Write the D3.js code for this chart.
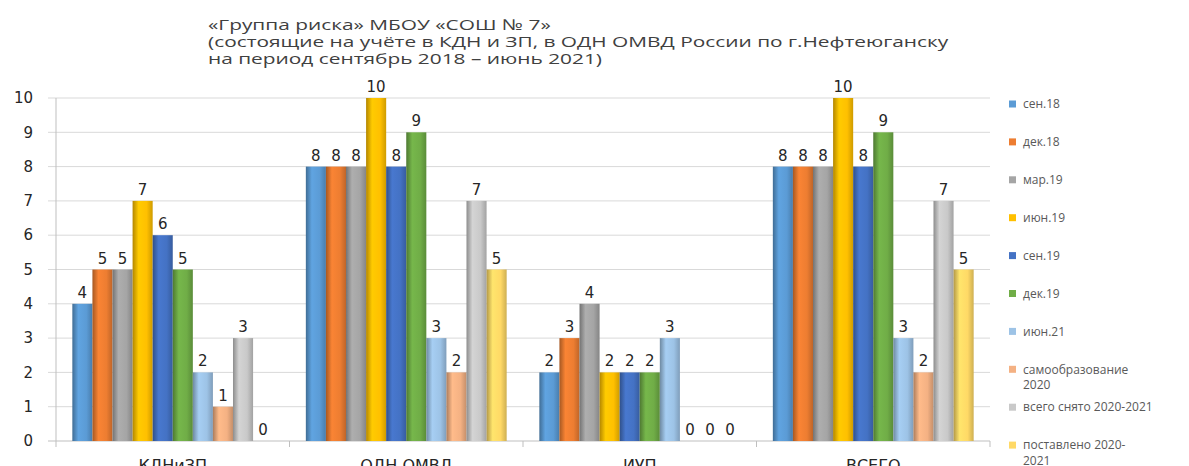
<!DOCTYPE html>
<html>
<head>
<meta charset="utf-8">
<script src="https://cdn.jsdelivr.net/npm/d3@7"></script>
<style>
  body { margin:0; background:#fff; }
  text { font-family: "Open Sans", "DejaVu Sans", sans-serif; }
  .num { font-family: "DejaVu Sans", sans-serif; }
</style>
</head>
<body>
<div id="container"></div>
<script>
/* DATA */
const categories = ["КДНиЗП", "ОДН ОМВД", "ИУП", "ВСЕГО"];
const seriesNames = ["сен.18", "дек.18", "мар.19", "июн.19", "сен.19", "дек.19", "июн.21",
                     "самообразование 2020", "всего снято 2020-2021", "поставлено 2020-2021"];
const seriesValues = [
  [4, 8, 2, 8],
  [5, 8, 3, 8],
  [5, 8, 4, 8],
  [7, 10, 2, 10],
  [6, 8, 2, 8],
  [5, 9, 2, 9],
  [2, 3, 3, 3],
  [1, 2, 0, 2],
  [3, 7, 0, 7],
  [0, 5, 0, 5]
];
const seriesColors = ["#5B9BD5", "#ED7D31", "#A5A5A5", "#FFC000", "#4472C4", "#70AD47",
                      "#9DC3E6", "#F4B183", "#C9C9C9", "#FFD966"];
const yTicks = [0, 1, 2, 3, 4, 5, 6, 7, 8, 9, 10];
const titleLines = ["«Группа риска» МБОУ «СОШ № 7»",
  "(состоящие на учёте в КДН и ЗП,  в ОДН ОМВД России по г.Нефтеюганску",
  "на период сентябрь 2018 – июнь 2021)"];

/* CONSTANTS */
const width = 1189, height = 466,
      margin = {top: 98, bottom: 25, left: 56, right: 199},
      innerWidth = width - margin.left - margin.right,
      innerHeight = height - margin.top - margin.bottom;

const data = [];
categories.forEach((c, ci) => {
  seriesNames.forEach((s, si) => data.push({cat: c, series: s, value: seriesValues[si][ci]}));
});

/* SCALES */
const x0 = d3.scaleBand()
  .domain(categories)
  .range([0, innerWidth])
  .paddingInner(0.14)
  .paddingOuter(0.07);

const x1 = d3.scaleBand()
  .domain(seriesNames)
  .range([0, x0.bandwidth()]);

const y = d3.scaleLinear()
  .domain([0, 10])
  .range([innerHeight, 0]);

const color = d3.scaleOrdinal()
  .domain(seriesNames)
  .range(seriesColors);

/* ELEMENTS */
const svg = d3.select("#container")
  .append("svg")
    .attr("width", width)
    .attr("height", height);

// cylinder-like shading for bars
const defs = svg.append("defs");
seriesNames.forEach((s, i) => {
  const c = d3.color(color(s));
  const g = defs.append("linearGradient")
    .attr("id", "grad" + i)
    .attr("x1", "0%").attr("x2", "100%").attr("y1", "0%").attr("y2", "0%");
  g.append("stop").attr("offset", "0%").attr("stop-color", c.darker(1));
  g.append("stop").attr("offset", "30%").attr("stop-color", c.brighter(0.15));
  g.append("stop").attr("offset", "70%").attr("stop-color", c);
  g.append("stop").attr("offset", "100%").attr("stop-color", c.darker(0.6));
});

// title (source text is drawn wide, so stretch it horizontally)
svg.append("g")
  .attr("transform", "translate(208,0) scale(1.39,1)")
  .selectAll("text")
  .data(titleLines)
  .join("text")
    .attr("x", 0)
    .attr("y", (d, i) => 30 + i * 17)
    .attr("font-size", "15px")
    .attr("fill", "#404040")
    .text(d => d);

const g = svg.append("g")
  .attr("transform", `translate(${margin.left},${margin.top})`);

// gridlines
g.append("g")
  .selectAll("line")
  .data(yTicks)
  .join("line")
    .attr("x1", -8)
    .attr("x2", innerWidth)
    .attr("y1", d => y(d))
    .attr("y2", d => y(d))
    .attr("stroke", d => d === 0 ? "#BFBFBF" : "#D9D9D9")
    .attr("stroke-width", 1);

// y axis line
g.append("line")
  .attr("x1", 0).attr("x2", 0)
  .attr("y1", 0).attr("y2", innerHeight)
  .attr("stroke", "#BFBFBF");

// y tick labels
g.append("g")
  .selectAll("text")
  .data(yTicks)
  .join("text")
    .attr("class", "num")
    .attr("x", -23)
    .attr("y", d => y(d))
    .attr("dy", "0.35em")
    .attr("text-anchor", "end")
    .attr("font-size", "15px")
    .attr("fill", "#262626")
    .text(d => d);

// x category ticks
const boundaries = categories.map(c => x0(c) - x0.step() * x0.paddingInner() / 2)
  .concat([innerWidth]);
g.append("g")
  .selectAll("line")
  .data(boundaries)
  .join("line")
    .attr("x1", d => d).attr("x2", d => d)
    .attr("y1", innerHeight).attr("y2", innerHeight + 6)
    .attr("stroke", "#BFBFBF");

// x labels
g.append("g")
  .selectAll("text")
  .data(categories)
  .join("text")
    .attr("class", "num")
    .attr("x", d => x0(d) + x0.bandwidth() / 2)
    .attr("y", innerHeight + 30)
    .attr("text-anchor", "middle")
    .attr("font-size", "16px")
    .attr("fill", "#262626")
    .text(d => d);

// bars
const groups = g.append("g")
  .selectAll("g")
  .data(categories)
  .join("g")
    .attr("transform", d => `translate(${x0(d)},0)`);

groups.selectAll("rect")
  .data(c => data.filter(d => d.cat === c))
  .join("rect")
    .attr("x", d => x1(d.series))
    .attr("y", d => y(d.value))
    .attr("width", x1.bandwidth())
    .attr("height", d => innerHeight - y(d.value))
    .attr("fill", d => `url(#grad${seriesNames.indexOf(d.series)})`);

groups.selectAll("text.bar-label")
  .data(c => data.filter(d => d.cat === c))
  .join("text")
    .attr("class", "bar-label num")
    .attr("x", d => x1(d.series) + x1.bandwidth() / 2)
    .attr("y", d => y(d.value) - 6)
    .attr("text-anchor", "middle")
    .attr("font-size", "15px")
    .attr("fill", "#262626")
    .text(d => d.value);

// legend
const legend = svg.append("g")
  .attr("transform", "translate(1009,104)");

const items = legend.selectAll("g")
  .data(seriesNames)
  .join("g")
    .attr("transform", (d, i) => `translate(0,${i * 37.9})`);

items.append("rect")
  .attr("x", 0).attr("y", -3.5)
  .attr("width", 7).attr("height", 7)
  .attr("fill", d => color(d));

const legendLines = {
  "самообразование 2020": ["самообразование", "2020"],
  "поставлено 2020-2021": ["поставлено 2020-", "2021"]
};

items.append("text")
  .attr("x", 14)
  .attr("y", 0)
  .attr("font-size", "12px")
  .attr("fill", "#595959")
  .selectAll("tspan")
  .data(d => legendLines[d] || [d])
  .join("tspan")
    .attr("x", 14)
    .attr("dy", (d, i) => i === 0 ? "0.35em" : "1.3em")
    .text(d => d);
</script>
</body>
</html>
